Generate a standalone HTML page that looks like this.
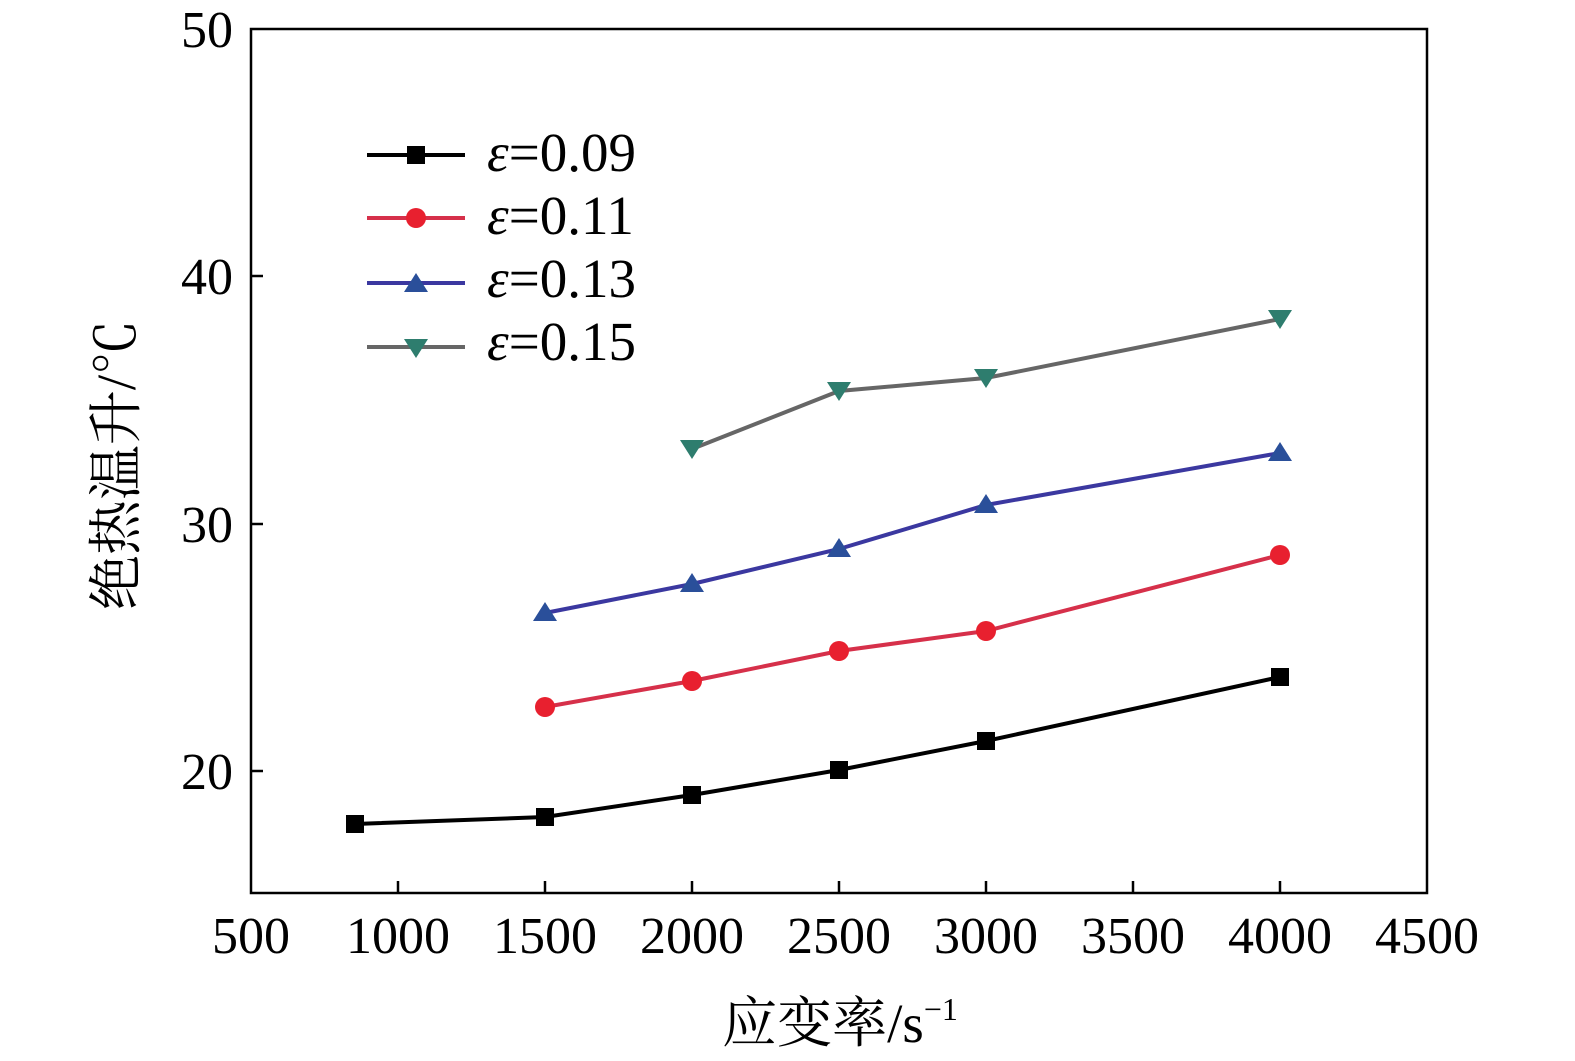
<!DOCTYPE html>
<html><head><meta charset="utf-8"><style>
html,body{margin:0;padding:0;background:#fff;}
svg{display:block;}
text{font-family:"Liberation Serif","Noto Serif CJK SC",serif;}
</style></head><body>
<svg width="1575" height="1061" viewBox="0 0 1575 1061" xmlns="http://www.w3.org/2000/svg">
<rect x="251" y="29" width="1176" height="864" fill="none" stroke="#000" stroke-width="2.5"/>
<g stroke="#000" stroke-width="2.5">
<line x1="398" y1="893" x2="398" y2="881"/><line x1="545" y1="893" x2="545" y2="881"/>
<line x1="692" y1="893" x2="692" y2="881"/><line x1="839" y1="893" x2="839" y2="881"/>
<line x1="986" y1="893" x2="986" y2="881"/><line x1="1133" y1="893" x2="1133" y2="881"/>
<line x1="1280" y1="893" x2="1280" y2="881"/>
<line x1="251" y1="276" x2="263" y2="276"/><line x1="251" y1="524" x2="263" y2="524"/>
<line x1="251" y1="771" x2="263" y2="771"/>
</g>
<g font-size="52" text-anchor="middle" fill="#000">
<text x="251" y="953">500</text><text x="398" y="953">1000</text><text x="545" y="953">1500</text>
<text x="692" y="953">2000</text><text x="839" y="953">2500</text><text x="986" y="953">3000</text>
<text x="1133" y="953">3500</text><text x="1280" y="953">4000</text><text x="1427" y="953">4500</text>
</g>
<g font-size="52" text-anchor="end" fill="#000">
<text x="233" y="47">50</text><text x="233" y="294">40</text><text x="233" y="542">30</text><text x="233" y="789">20</text>
</g>
<text x="840" y="1042" font-size="55" text-anchor="middle">应变率/s<tspan font-size="32" dy="-22">−1</tspan></text>
<text transform="translate(135,465) rotate(-90)" font-size="55" text-anchor="middle">绝热温升/℃</text>
<polyline points="355,824 545,817 692,795 839,770 986,741 1280,677" fill="none" stroke="#000" stroke-width="4"/>
<g fill="#000"><rect x="346" y="815" width="18" height="18"/><rect x="536" y="808" width="18" height="18"/><rect x="683" y="786" width="18" height="18"/><rect x="830" y="761" width="18" height="18"/><rect x="977" y="732" width="18" height="18"/><rect x="1271" y="668" width="18" height="18"/></g>
<polyline points="545,707 692,681 839,651 986,631 1280,555" fill="none" stroke="#d6304a" stroke-width="4"/>
<g fill="#e8202f"><circle cx="545" cy="707" r="10"/><circle cx="692" cy="681" r="10"/><circle cx="839" cy="651" r="10"/><circle cx="986" cy="631" r="10"/><circle cx="1280" cy="555" r="10"/></g>
<polyline points="545,613 692,584 839,549 986,505 1280,453" fill="none" stroke="#3b38a0" stroke-width="4"/>
<g fill="#2a4f9a"><polygon points="545,602 557,621 533,621"/><polygon points="692,573 704,592 680,592"/><polygon points="839,538 851,557 827,557"/><polygon points="986,494 998,513 974,513"/><polygon points="1280,442 1292,461 1268,461"/></g>
<polyline points="692,449 839,391 986,378 1280,319" fill="none" stroke="#666" stroke-width="4"/>
<g fill="#2e7d6e"><polygon points="680,440 704,440 692,459"/><polygon points="827,382 851,382 839,401"/><polygon points="974,369 998,369 986,388"/><polygon points="1268,310 1292,310 1280,329"/></g>
<line x1="367" y1="155" x2="465" y2="155" stroke="#000" stroke-width="4"/><rect x="407" y="146" width="18" height="18" fill="#000"/>
<line x1="367" y1="218" x2="465" y2="218" stroke="#d6304a" stroke-width="4"/><circle cx="416" cy="218" r="10" fill="#e8202f"/>
<line x1="367" y1="283" x2="465" y2="283" stroke="#3b38a0" stroke-width="4"/><polygon points="416,273 428,292 404,292" fill="#2a4f9a"/>
<line x1="367" y1="347" x2="465" y2="347" stroke="#666" stroke-width="4"/><polygon points="404,339 428,339 416,358" fill="#2e7d6e"/>
<g font-size="55" fill="#000">
<text x="487" y="171"><tspan font-style="italic">ε</tspan>=0.09</text>
<text x="487" y="234"><tspan font-style="italic">ε</tspan>=0.11</text>
<text x="487" y="297"><tspan font-style="italic">ε</tspan>=0.13</text>
<text x="487" y="360"><tspan font-style="italic">ε</tspan>=0.15</text>
</g>
</svg>
</body></html>
